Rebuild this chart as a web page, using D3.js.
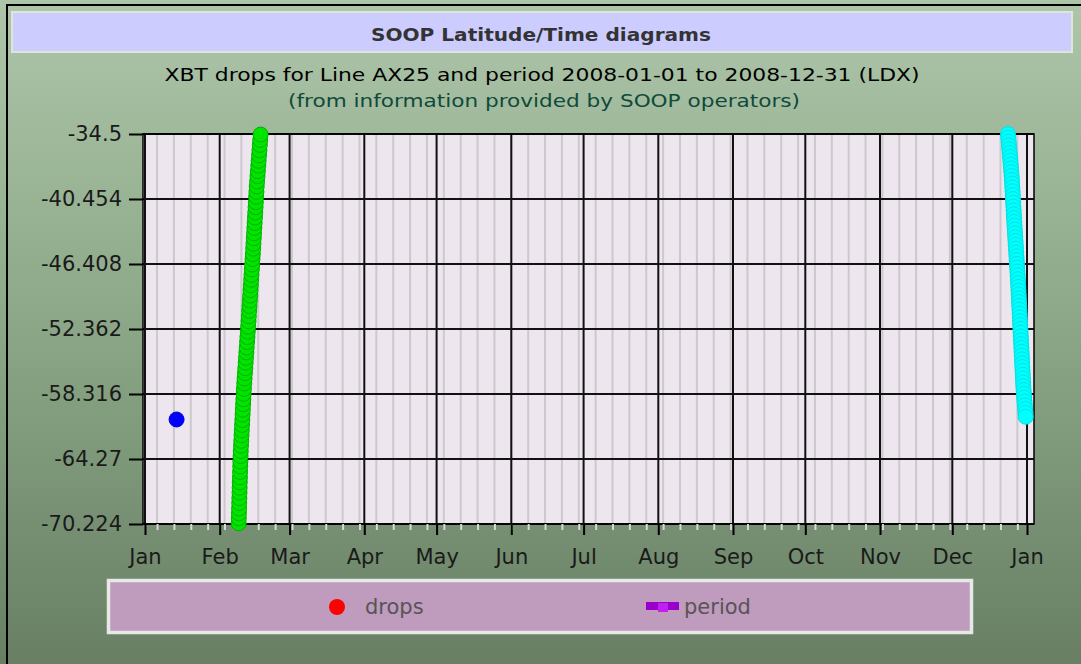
<!DOCTYPE html>
<html>
<head>
<meta charset="utf-8">
<script src="https://cdn.jsdelivr.net/npm/d3@7"></script>
<style>
  body { margin: 0; background: #fff; }
  svg { display: block; font-family: "DejaVu Sans", sans-serif; }
</style>
</head>
<body>
<svg id="chart" width="1081" height="664"></svg>
<script>
// tick labels
const yTicks = [-34.5, -40.454, -46.408, -52.362, -58.316, -64.27, -70.224];
const monthLabels = ["Jan", "Feb", "Mar", "Apr", "May", "Jun", "Jul", "Aug", "Sep", "Oct", "Nov", "Dec", "Jan"];
const legendLabels = ["drops", "period"];

// drops: day offset from 2008-01-01 and latitude
const blueDay = [13.1];
const blueLat = [-60.65];

const greenDay = [38.86, 38.92, 38.97, 39.04, 39.10, 39.15, 39.22, 39.27, 39.33, 39.40,
  39.46, 39.52, 39.58, 39.65, 39.73, 39.85, 39.95, 40.06, 40.17, 40.28,
  40.39, 40.50, 40.60, 40.72, 40.82, 40.94, 41.04, 41.18, 41.32, 41.48,
  41.62, 41.77, 41.91, 42.07, 42.21, 42.36, 42.50, 42.66, 42.80, 42.95,
  43.09, 43.23, 43.36, 43.51, 43.64, 43.78, 43.91, 44.06, 44.19, 44.34,
  44.47, 44.62, 44.75, 44.89, 45.01, 45.14, 45.25, 45.38, 45.50, 45.63,
  45.75, 45.88, 45.99, 46.12, 46.24, 46.36, 46.51, 46.68, 46.84, 47.00,
  47.16, 47.33, 47.48, 47.65, 47.80, 47.98];
const greenLat = [-70.15, -69.70, -69.25, -68.80, -68.30, -67.85, -67.35, -66.90, -66.40, -65.95,
  -65.45, -64.95, -64.50, -64.00, -63.55, -63.05, -62.60, -62.10, -61.65, -61.15,
  -60.70, -60.20, -59.75, -59.25, -58.80, -58.30, -57.85, -57.35, -56.90, -56.40,
  -55.95, -55.45, -55.00, -54.50, -54.05, -53.55, -53.10, -52.60, -52.15, -51.65,
  -51.20, -50.70, -50.25, -49.75, -49.30, -48.80, -48.35, -47.85, -47.40, -46.90,
  -46.45, -45.95, -45.50, -45.00, -44.55, -44.05, -43.60, -43.10, -42.65, -42.15,
  -41.70, -41.20, -40.75, -40.25, -39.80, -39.30, -38.85, -38.35, -37.90, -37.40,
  -36.95, -36.45, -36.00, -35.50, -35.05, -34.55];

const cyanDay = [358.10, 358.24, 358.38, 358.53, 358.67, 358.81, 358.95, 359.09, 359.23, 359.37,
  359.50, 359.62, 359.72, 359.82, 359.91, 360.00, 360.09, 360.18, 360.27, 360.36,
  360.45, 360.54, 360.63, 360.72, 360.82, 360.92, 361.02, 361.12, 361.22, 361.32,
  361.42, 361.52, 361.62, 361.72, 361.82, 361.92, 362.02, 362.12, 362.22, 362.31,
  362.39, 362.47, 362.55, 362.63, 362.71, 362.79, 362.87, 362.95, 363.03, 363.11,
  363.19, 363.27, 363.35, 363.43, 363.51, 363.59, 363.67, 363.75, 363.83, 363.91,
  363.99, 364.07, 364.15, 364.23, 364.31, 364.39, 364.47, 364.58, 364.70, 364.82,
  364.95, 365.08, 365.21, 365.34, 365.45];
const cyanLat = [-34.50, -34.85, -35.20, -35.55, -35.90, -36.25, -36.60, -36.95, -37.30, -37.65,
  -38.00, -38.35, -38.70, -39.05, -39.40, -39.75, -40.10, -40.45, -40.80, -41.15,
  -41.50, -41.85, -42.20, -42.55, -42.90, -43.25, -43.60, -43.95, -44.30, -44.65,
  -45.00, -45.35, -45.70, -46.05, -46.40, -46.75, -47.10, -47.45, -47.80, -48.15,
  -48.50, -48.85, -49.20, -49.55, -49.90, -50.25, -50.60, -50.95, -51.30, -51.65,
  -52.00, -52.35, -52.70, -53.05, -53.40, -53.75, -54.10, -54.45, -54.80, -55.15,
  -55.50, -55.85, -56.20, -56.55, -56.90, -57.25, -57.60, -57.95, -58.30, -58.65,
  -59.00, -59.35, -59.70, -60.05, -60.40];

const t0 = Date.UTC(2008, 0, 1);
const toDate = d => new Date(t0 + d * 864e5);

const svg = d3.select("#chart");
const W = 1081, H = 664;
const plot = { left: 143, right: 1034, top: 134, bottom: 524 };

// background
const defs = svg.append("defs");
const grad = defs.append("linearGradient").attr("id", "bg").attr("x1", 0).attr("y1", 0).attr("x2", 0).attr("y2", 1);
grad.append("stop").attr("offset", "0%").attr("stop-color", "#aec5a9");
grad.append("stop").attr("offset", "45%").attr("stop-color", "#8eaa8a");
grad.append("stop").attr("offset", "100%").attr("stop-color", "#687f64");
svg.append("rect").attr("width", W).attr("height", H).attr("fill", "url(#bg)");
svg.append("line").attr("x1", 7).attr("x2", 7).attr("y1", 4).attr("y2", H).attr("stroke", "#000").attr("stroke-width", 2);
svg.append("line").attr("x1", 6).attr("x2", W).attr("y1", 5).attr("y2", 5).attr("stroke", "#000").attr("stroke-width", 2);

// title box
svg.append("rect").attr("x", 12).attr("y", 12).attr("width", 1060).attr("height", 40)
  .attr("fill", "#ccccff").attr("stroke", "#dde6d8").attr("stroke-width", 2);
svg.append("text").attr("x", 541).attr("y", 41).attr("text-anchor", "middle")
  .attr("font-size", 18).attr("font-weight", "bold").attr("fill", "#333")
  .attr("textLength", 340).attr("lengthAdjust", "spacingAndGlyphs")
  .text("SOOP Latitude/Time diagrams");
svg.append("text").attr("x", 542).attr("y", 81).attr("text-anchor", "middle")
  .attr("font-size", 18).attr("fill", "#000")
  .attr("textLength", 755).attr("lengthAdjust", "spacingAndGlyphs")
  .text("XBT drops for Line AX25 and period 2008-01-01 to 2008-12-31 (LDX)");
svg.append("text").attr("x", 544).attr("y", 107).attr("text-anchor", "middle")
  .attr("font-size", 18).attr("fill", "#0f4a3a")
  .attr("textLength", 512).attr("lengthAdjust", "spacingAndGlyphs")
  .text("(from information provided by SOOP operators)");

// scales
const x = d3.scaleUtc()
  .domain([toDate(-0.83), toDate(368.9)])
  .range([plot.left, plot.right]);
const y = d3.scaleLinear()
  .domain([d3.min(yTicks), d3.max(yTicks)])
  .range([plot.bottom, plot.top]);

const months = d3.utcMonth.range(new Date(t0), toDate(367));
const weeks = d3.utcSunday.range(x.domain()[0], x.domain()[1]);

// plot area
svg.append("rect").attr("x", plot.left).attr("y", plot.top)
  .attr("width", plot.right - plot.left).attr("height", plot.bottom - plot.top)
  .attr("fill", "#ede6ee");

const grid = svg.append("g");
grid.selectAll(".wk").data(weeks).enter().append("line")
  .attr("x1", d => x(d)).attr("x2", d => x(d))
  .attr("y1", plot.top).attr("y2", plot.bottom)
  .attr("stroke", "#cdc8cd").attr("stroke-width", 2);
grid.selectAll(".mo").data(months).enter().append("line")
  .attr("x1", d => x(d)).attr("x2", d => x(d))
  .attr("y1", plot.top).attr("y2", plot.bottom)
  .attr("stroke", "#111").attr("stroke-width", 2);
grid.selectAll(".hz").data(yTicks).enter().append("line")
  .attr("x1", plot.left).attr("x2", plot.right)
  .attr("y1", d => y(d)).attr("y2", d => y(d))
  .attr("stroke", "#111").attr("stroke-width", 2);

svg.append("rect").attr("x", plot.left).attr("y", plot.top)
  .attr("width", plot.right - plot.left).attr("height", plot.bottom - plot.top)
  .attr("fill", "none").attr("stroke", "#000").attr("stroke-width", 1.5);

// axes
const minorAxis = svg.append("g").attr("transform", `translate(0,${plot.bottom})`)
  .call(d3.axisBottom(x).tickValues(weeks).tickSize(6).tickFormat(""));
minorAxis.select(".domain").remove();
minorAxis.selectAll("line").attr("stroke", "#d8d8d8").attr("stroke-width", 2);

const xAxis = svg.append("g").attr("transform", `translate(0,${plot.bottom})`)
  .call(d3.axisBottom(x).tickValues(months).tickSize(11).tickPadding(14)
    .tickFormat((d, i) => monthLabels[i]));
xAxis.select(".domain").remove();
xAxis.selectAll("line").attr("stroke", "#000").attr("stroke-width", 2);
xAxis.selectAll("text").attr("font-size", 21).attr("fill", "#1a1a1a")
  .attr("font-family", "DejaVu Sans");

const yAxis = svg.append("g").attr("transform", `translate(${plot.left},0)`)
  .call(d3.axisLeft(y).tickValues(yTicks).tickSize(14).tickPadding(7)
    .tickFormat(d => String(d)));
yAxis.select(".domain").remove();
yAxis.selectAll("line").attr("stroke", "#000").attr("stroke-width", 2);
yAxis.selectAll("text").attr("font-size", 21).attr("fill", "#1a1a1a")
  .attr("font-family", "DejaVu Sans");

// drops
function drawDrops(days, lats, fill, stroke) {
  svg.append("g").selectAll("circle")
    .data(days.map((d, i) => ({ t: toDate(d), lat: lats[i] })))
    .enter().append("circle")
    .attr("cx", d => x(d.t)).attr("cy", d => y(d.lat))
    .attr("r", 7.5)
    .attr("fill", fill).attr("stroke", stroke).attr("stroke-width", 1);
}
drawDrops(blueDay, blueLat, "#0000ff", "#0000dd");
drawDrops(greenDay, greenLat, "#00e400", "#00b000");
drawDrops(cyanDay, cyanLat, "#00ffff", "#00e2e2");

// legend
const lg = svg.append("g");
lg.append("rect").attr("x", 108.5).attr("y", 580.5).attr("width", 863).attr("height", 52)
  .attr("fill", "#bf9bbd").attr("stroke", "#e8e8e6").attr("stroke-width", 3.5);
lg.append("circle").attr("cx", 337).attr("cy", 607).attr("r", 8).attr("fill", "#ff0000");
lg.append("text").attr("x", 365).attr("y", 614).attr("font-size", 21).attr("fill", "#555")
  .text(legendLabels[0]);
lg.append("rect").attr("x", 646).attr("y", 602).attr("width", 33).attr("height", 8).attr("fill", "#9a00cc");
lg.append("rect").attr("x", 658).attr("y", 603).attr("width", 10).attr("height", 9).attr("fill", "#c020f0");
lg.append("text").attr("x", 684).attr("y", 614).attr("font-size", 21).attr("fill", "#555")
  .text(legendLabels[1]);
</script>
</body>
</html>
